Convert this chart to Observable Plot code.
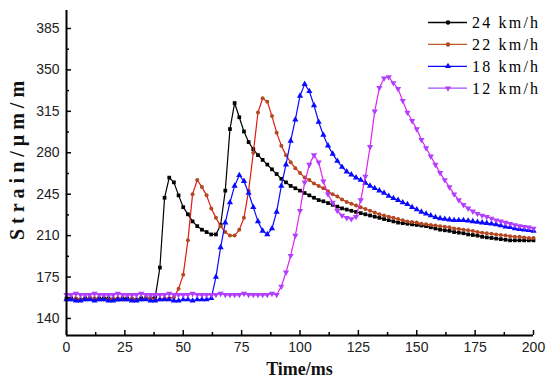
<!DOCTYPE html>
<html><head><meta charset="utf-8">
<script src="https://cdn.jsdelivr.net/npm/d3@7"></script>
<script src="https://cdn.jsdelivr.net/npm/@observablehq/plot@0.6"></script>
<style>body{margin:0;background:#fff} #chart{width:550px;height:378px}</style>
</head><body><div id="chart"></div>
<script>
// sampling grid (ms)
const time = d3.range(0, 201, 2);

const speeds = ["24 km/h", "22 km/h", "18 km/h", "12 km/h"];

const s24 = [157,157,156,156,157,157,156,157,157,157,156,156,157,157,156,156,157,157,157,158,
  183,242,259,255,244,234,228,222,218,215,213,211,211,219,248,300,322,310,298,289,283,278,274,270,266,262,258,255,252,250,248,
  246,244,242,240,239,237.5,236,234.5,233,232,
  231,230,229,228,227,226,225,224,223,222,
  221,220.5,220,219.5,219,218.5,218,217,216,215,
  214.5,214,213,212.5,212,211,210.5,210,209,208.5,
  208,207.5,207,206.5,206,206,206,206,206,206];

const s22 = [156,156,157,156,156,157,157,156,156,156,157,157,156,156,157,156,156,157,157,156,156,157,157,158,
  165,177,206,245,257,251,244,233,225,218,213,210,210,215,225,248,280,314,326,323,311,297,286,278,272,267,263,
  259,257,254,252,250,247.5,245,243,240.5,238.5,
  237,235.5,234,232.5,231,229.5,228,227,226,225,
  224,223,222,221.5,221,220,219.5,219,218.5,218,
  217.5,217,216,215.5,215,214.5,214,213,212.5,212,
  211.5,211,210.5,210,209.5,209,209,208.5,208,208];

const s18 = [156,156,155,155,156,156,155,156,156,155,155,156,156,156,155,155,156,156,155,155,156,156,156,155,155,156,156,155,156,156,156,157,
  175,200,221,238,252,261,256,246,234,222,214,211,216,230,252,270,290,308,328,
  338,332,320,306,295,286,279,273,268,264,
  261.5,259,257,254.5,252,250,248,246,243.5,241.5,
  240,238,236.5,234,232,230,228.5,227,225.5,224.5,
  224,223.5,223,223,223,222.5,222,221.5,221,220.5,
  220,219.5,218.5,217.5,217,216,215.5,215,214.5,214];

const s12 = [160,160,161,160,160,160,161,160,160,160,
  160,161,160,160,160,160,161,160,160,160,
  160,160,161,160,160,160,160,161,160,160,
  160,160,160,161,160,160,160,160,161,160,
  160,160,160,160,161,160,
  167,179,193,210,231,
  255,270,278,272,256,245,238,231,227,225,
  224,226,240,260,285,315,335,343,344,339,
  334,324,314,307,300,291,284,277,270,263,
  257,251,245,240,236,233,230.5,228.5,227,226,
  224.5,223,222,221,220,219,218,217.5,217,216];

const xTicks = [0, 25, 50, 75, 100, 125, 150, 175, 200];
const xMinor = [12.5, 37.5, 62.5, 87.5, 112.5, 137.5, 162.5, 187.5];
const yTicks = [140, 175, 210, 245, 280, 315, 350, 385];
const yMinor = [157.5, 192.5, 227.5, 262.5, 297.5, 332.5, 367.5];

const triangleDown = {
  draw(ctx, size) {
    const y = -Math.sqrt(size / (Math.sqrt(3) * 3));
    ctx.moveTo(0, -y * 2);
    ctx.lineTo(-Math.sqrt(3) * y, y);
    ctx.lineTo(Math.sqrt(3) * y, y);
    ctx.closePath();
  }
};

const series = [
  {name: speeds[0], values: s24, stroke: "#000000", fill: "#000000", symbol: "square", r: 2.1},
  {name: speeds[1], values: s22, stroke: "#e01a10", fill: "#b04a20", symbol: "circle", r: 2.0},
  {name: speeds[2], values: s18, stroke: "#0a0aff", fill: "#0a0aff", symbol: "triangle", r: 2.3},
  {name: speeds[3], values: s12, stroke: "#e020f0", fill: "#b040ff", symbol: triangleDown, r: 2.3}
];

const W = 550, H = 378;
const mL = 66, mR = 17, mT = 10, mB = 43;
const fw = W - mL - mR, fh = H - mT - mB;

const seriesMarks = series.flatMap(s => {
  const d = time.map((t, i) => ({t, v: s.values[i]}));
  return [
    Plot.line(d, {x: "t", y: "v", stroke: s.stroke, strokeWidth: 1.2}),
    Plot.dot(d, {x: "t", y: "v", symbol: s.symbol, fill: s.fill, stroke: "none", r: s.r})
  ];
});

const plot = Plot.plot({
  width: W, height: H,
  marginLeft: mL, marginRight: mR, marginTop: mT, marginBottom: mB,
  x: {domain: [0, 200]},
  y: {domain: [125.6, 400.2]},
  style: {fontFamily: "'Liberation Sans', Arial, sans-serif", fontSize: "14px", color: "#222", background: "#fff"},
  marks: [
    Plot.axisX({ticks: xTicks, tickSize: 0, tickPadding: 7, label: null, fontSize: 14}),
    Plot.axisY({ticks: yTicks, tickSize: 0, tickPadding: 7, label: null, fontSize: 14}),
    ...seriesMarks,
    Plot.tickX(xTicks, {x: d => d, stroke: "#000", strokeWidth: 1.5, insetTop: fh - 5}),
    Plot.tickX(xMinor, {x: d => d, stroke: "#000", strokeWidth: 1.5, insetTop: fh - 3}),
    Plot.tickY(yTicks, {y: d => d, stroke: "#000", strokeWidth: 1.5, insetRight: fw - 5}),
    Plot.tickY(yMinor, {y: d => d, stroke: "#000", strokeWidth: 1.5, insetRight: fw - 3}),
    Plot.ruleX([0], {stroke: "#000", strokeWidth: 2}),
    Plot.ruleY([125.6], {stroke: "#000", strokeWidth: 2})
  ]
});

document.getElementById("chart").appendChild(plot);

const svg = d3.select(plot);
// axis titles
svg.append("text")
  .attr("x", (mL + W - mR) / 2).attr("y", 375)
  .attr("text-anchor", "middle")
  .attr("font-family", "'Liberation Serif', 'Times New Roman', serif")
  .attr("font-size", 18).attr("font-weight", "bold").attr("fill", "#111")
  .text("Time/ms");
svg.append("text")
  .attr("transform", "translate(24,158) rotate(-90)")
  .attr("text-anchor", "middle")
  .attr("font-family", "'Liberation Serif', 'Times New Roman', serif")
  .attr("font-size", 20).attr("font-weight", "bold").attr("fill", "#111")
  .attr("letter-spacing", 5)
  .text("Strain/\u03bcm/m");

// legend
const lg = svg.append("g");
const legendSymbols = [d3.symbolCircle, d3.symbolCircle, d3.symbolTriangle, triangleDown];
const legendLine = ["#000000", "#c05a30", "#0a0aff", "#a050ff"];
series.forEach((s, i) => {
  const y = 22.5 + 21.9 * i;
  lg.append("line").attr("x1", 428).attr("x2", 467).attr("y1", y).attr("y2", y)
    .attr("stroke", legendLine[i]).attr("stroke-width", 1.3);
  lg.append("path").attr("transform", `translate(448,${y})`)
    .attr("d", d3.symbol(legendSymbols[i], 16)()).attr("fill", i === 1 ? "#b04a20" : s.fill);
  lg.append("text").attr("x", 472).attr("y", y).attr("dy", "0.36em")
    .attr("text-anchor", "start")
    .attr("font-family", "'Liberation Serif', 'Times New Roman', serif")
    .attr("font-size", 16).attr("fill", "#000")
    .attr("letter-spacing", 2.2)
    .text(s.name);
});
</script>
</body></html>
